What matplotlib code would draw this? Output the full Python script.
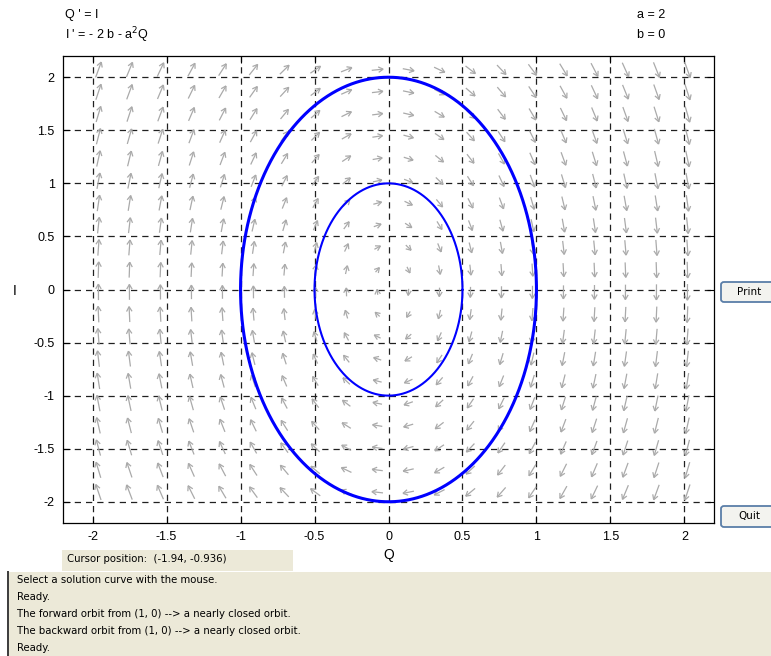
import numpy as np
import matplotlib
matplotlib.use("Agg")
import matplotlib.pyplot as plt
from matplotlib.collections import LineCollection
from matplotlib.patches import Rectangle, FancyBboxPatch

plt.rcParams['font.family'] = ['Liberation Sans', 'DejaVu Sans']

# system parameters: Q' = I, I' = -2b - a^2 Q
a = 2.0
b = 0.0

x_limits = [-2.2, 2.2]
y_limits = [-2.2, 2.2]
tick_values = [-2, -1.5, -1, -0.5, 0, 0.5, 1, 1.5, 2]
tick_labels = ['-2', '-1.5', '-1', '-0.5', '0', '0.5', '1', '1.5', '2']

# starting points of the solution curves
orbit_starts_Q = [1.0, 0.5]
orbit_starts_I = [0.0, 0.0]
orbit_widths = [2.2, 1.5]

messages = [
    "Select a solution curve with the mouse.",
    "Ready.",
    "The forward orbit from (1, 0) --> a nearly closed orbit.",
    "The backward orbit from (1, 0) --> a nearly closed orbit.",
    "Ready.",
]
cursor_text = "Cursor position:  (-1.94, -0.936)"

W, H = 771, 656
fig = plt.figure(figsize=(W / 100, H / 100), dpi=100)
fig.patch.set_facecolor('white')

ax_l, ax_r, ax_t, ax_b = 63, 714, 56, 523
ax = fig.add_axes([ax_l / W, 1 - ax_b / H, (ax_r - ax_l) / W, (ax_b - ax_t) / H])
ax.set_xlim(x_limits)
ax.set_ylim(y_limits)


def field(q, i):
    return i, -2 * b - a ** 2 * q


# direction field on a 20 x 20 grid
n = 22
gx = np.linspace(x_limits[0], x_limits[1], n)[1:-1] + 0.03
gy = np.linspace(y_limits[0], y_limits[1], n)[1:-1] + 0.08
QQ, II = np.meshgrid(gx, gy)
dq, di = field(QQ, II)
sx = (ax_r - ax_l) / (x_limits[1] - x_limits[0])
sy = (ax_b - ax_t) / (y_limits[1] - y_limits[0])
px, py = dq * sx, di * sy
mag = np.hypot(px, py)
mag[mag == 0] = 1e-9
length = 1.7 * mag ** (1 / 3)
ux, uy = px / mag, py / mag
segs = []
head = 5.5
ang = np.deg2rad(30)
for x0, y0, u, v, L in zip(QQ.ravel(), II.ravel(), ux.ravel(), uy.ravel(), length.ravel()):
    # pixel offsets from the grid point, converted to data units
    tx, ty = -0.5 * L * u, -0.5 * L * v
    hx, hy = 0.5 * L * u, 0.5 * L * v
    segs.append([(x0 + tx / sx, y0 + ty / sy), (x0 + hx / sx, y0 + hy / sy)])
    for s in (1, -1):
        ca, sa = np.cos(s * ang), np.sin(s * ang)
        bx = -(u * ca - v * sa) * head
        by = -(u * sa + v * ca) * head
        segs.append([(x0 + hx / sx, y0 + hy / sy),
                     (x0 + (hx + bx) / sx, y0 + (hy + by) / sy)])
ax.add_collection(LineCollection(segs, colors='#aaaaaa', linewidths=0.9, zorder=2))


# solution curves (RK4 integration)
def orbit(q0, i0, T=np.pi, steps=2000):
    h = T / steps
    q, i = q0, i0
    qs, is_ = [q], [i]
    for _ in range(steps):
        k1 = field(q, i)
        k2 = field(q + h / 2 * k1[0], i + h / 2 * k1[1])
        k3 = field(q + h / 2 * k2[0], i + h / 2 * k2[1])
        k4 = field(q + h * k3[0], i + h * k3[1])
        q += h / 6 * (k1[0] + 2 * k2[0] + 2 * k3[0] + k4[0])
        i += h / 6 * (k1[1] + 2 * k2[1] + 2 * k3[1] + k4[1])
        qs.append(q)
        is_.append(i)
    return np.array(qs), np.array(is_)


for q0, i0, lw in zip(orbit_starts_Q, orbit_starts_I, orbit_widths):
    q, i = orbit(q0, i0)
    ax.plot(q, i, color='#0000ff', lw=lw, zorder=3, solid_capstyle='round')

ax.set_xticks(tick_values)
ax.set_xticklabels(tick_labels)
ax.set_yticks(tick_values)
ax.set_yticklabels(tick_labels)
ax.grid(True, color='#202020', linestyle=(0, (5, 4)), linewidth=0.9, zorder=1)
ax.tick_params(direction='in', length=5, width=0.8, top=True, right=True,
               labelsize=9, pad=6)
for sp in ax.spines.values():
    sp.set_linewidth(0.9)
ax.set_xlabel('Q', fontsize=10, labelpad=3)
fig.text(15 / W, 1 - 291 / H, 'I', fontsize=10, ha='center', va='center')

# equations and parameters
fig.text(65 / W, 1 - 15 / H, "Q ' = I", fontsize=9, va='center', ha='left')
fig.text(65 / W, 1 - 35 / H, r"I ' = - 2 b - a$^2$Q", fontsize=9, va='center', ha='left')
fig.text(637 / W, 1 - 15 / H, "a = 2", fontsize=9, va='center', ha='left')
fig.text(637 / W, 1 - 35 / H, "b = 0", fontsize=9, va='center', ha='left')


def px_rect(x0, y0, x1, y1, **kw):
    return Rectangle((x0 / W, 1 - y1 / H), (x1 - x0) / W, (y1 - y0) / H,
                     transform=fig.transFigure, **kw)


def button(x0, y0, x1, y1, label):
    fig.patches.append(FancyBboxPatch((x0 / W, 1 - y1 / H), (x1 - x0) / W, (y1 - y0) / H,
                                      boxstyle="round,pad=0,rounding_size=0.004",
                                      transform=fig.transFigure, facecolor='#f3f3ef',
                                      edgecolor='#5a7ea8', linewidth=1.3))
    fig.text((x0 + 28) / W, 1 - (y0 + y1) / 2 / H, label, fontsize=7.5,
             ha='center', va='center', family=['DejaVu Sans'])


button(721, 282, 775, 302, "Print")
button(721, 506, 775, 527, "Quit")

# status panels
beige = '#ece9d8'
fig.patches.append(px_rect(62, 550, 293, 571, facecolor=beige, edgecolor='none'))
fig.text(67 / W, 1 - 559 / H, cursor_text, fontsize=7.3, ha='left', va='center',
         family=['DejaVu Sans'])
fig.patches.append(px_rect(8, 571, 771, 656, facecolor=beige, edgecolor='none'))
fig.patches.append(px_rect(7, 571, 9, 656, facecolor='#404040', edgecolor='none'))
fig.patches.append(px_rect(9, 571, 771, 572, facecolor='#ffffff', edgecolor='none'))
for k, msg in enumerate(messages):
    fig.text(17 / W, 1 - (580 + 17 * k) / H, msg, fontsize=7.3, ha='left', va='center',
             family=['DejaVu Sans'])

fig.savefig('out.png', dpi=100, facecolor='white')
